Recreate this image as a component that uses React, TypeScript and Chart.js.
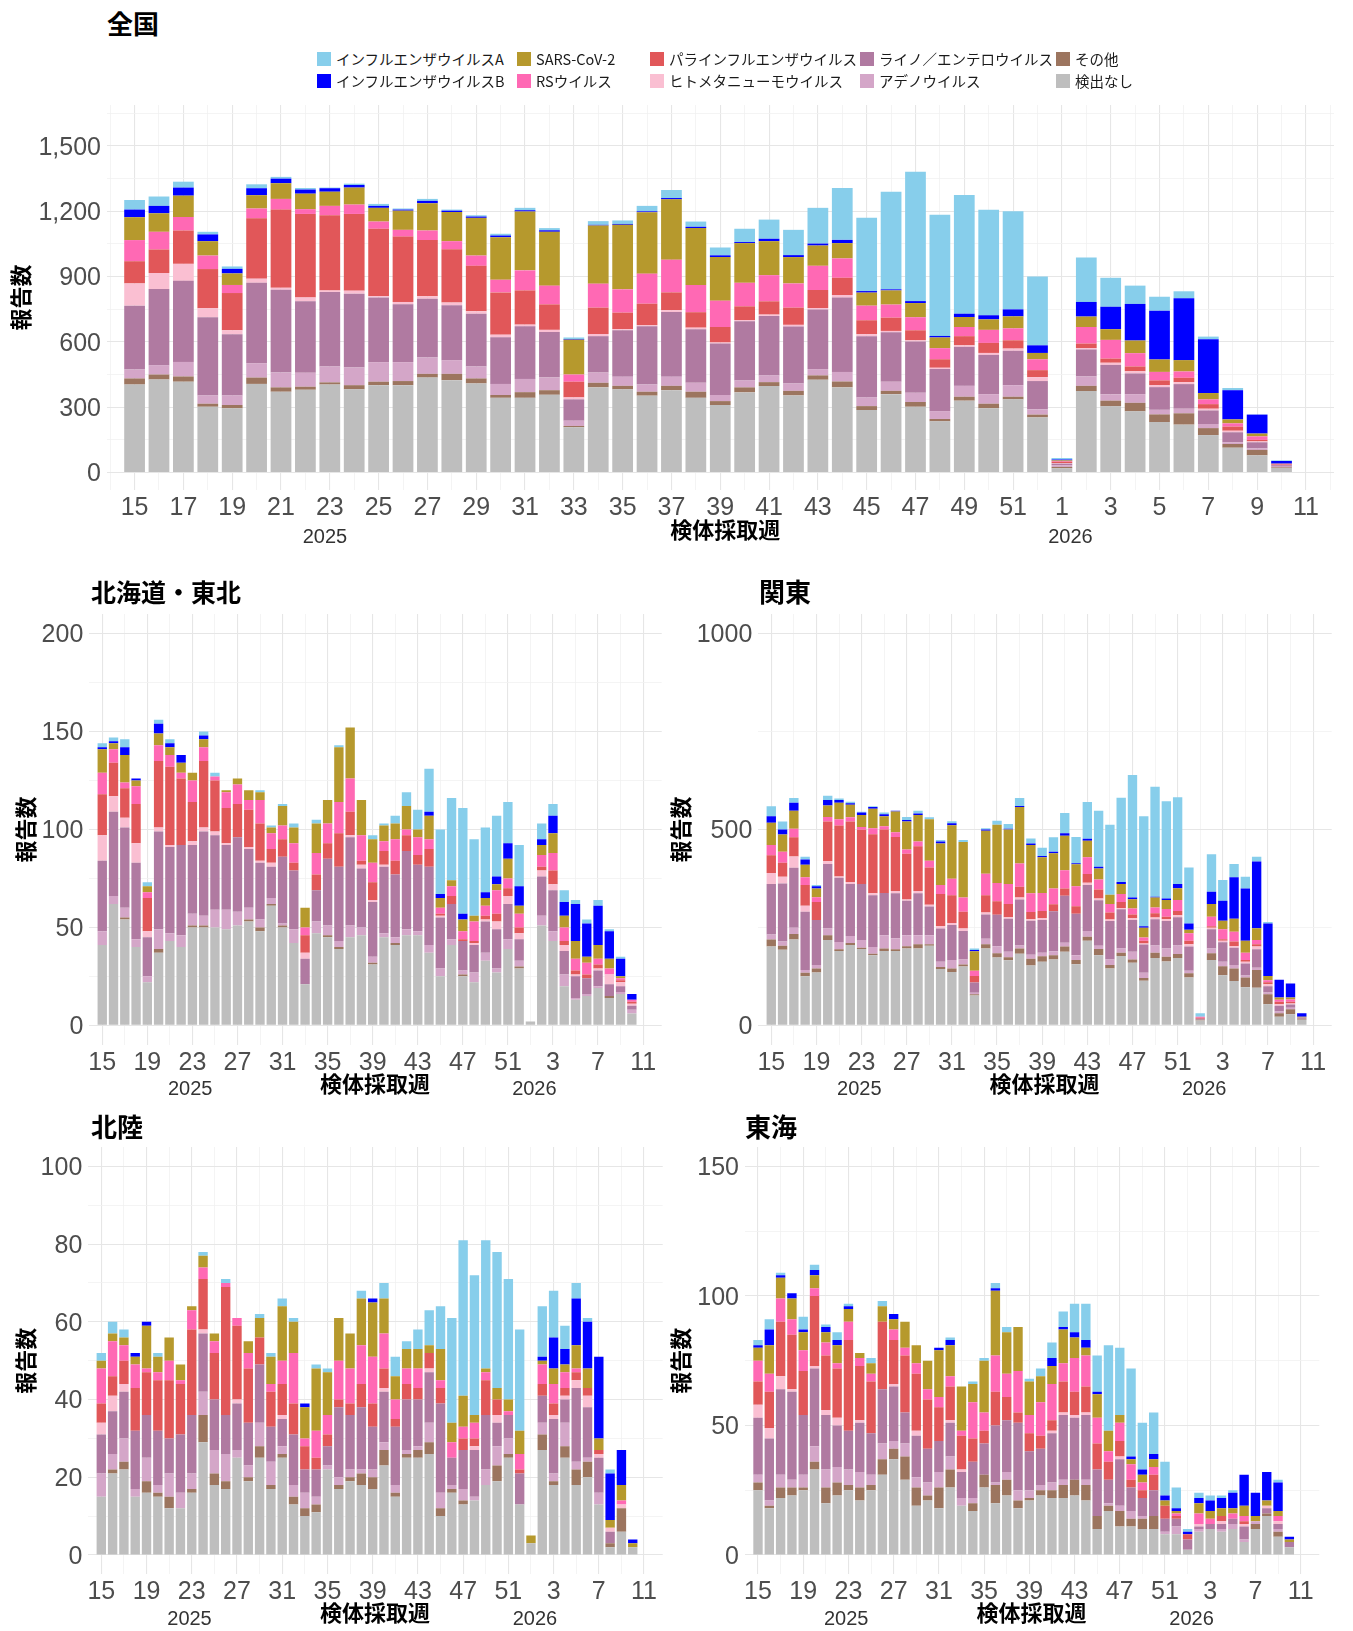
import React, { useEffect, useRef } from "react";
import { Chart, registerables } from "chart.js";
Chart.register(...registerables);

// ---- week axis (2025 w15 .. 2026 w11) ----
const WEEK_LABELS = [
  "15","16","17","18","19","20","21","22","23","24","25","26","27","28","29","30","31","32","33","34",
  "35","36","37","38","39","40","41","42","43","44","45","46","47","48","49","50","51","52",
  "1","2","3","4","5","6","7","8","9","10","11",
];
const YEAR_LABELS = ["2025", "2026"];
const YEAR_POS = [7.8, 38.35];
const X_TITLE_POS = 24.2;

// series in stacking order (bottom -> top)
const SERIES_NAMES = [
  "検出なし", "その他", "アデノウイルス", "ライノ／エンテロウイルス", "ヒトメタニューモウイルス",
  "パラインフルエンザウイルス", "RSウイルス", "SARS-CoV-2", "インフルエンザウイルスB", "インフルエンザウイルスA",
];
const SERIES_COLORS = [
  "#BEBEBE", "#9C755F", "#D4A6C8", "#B07AA1", "#FABFD2",
  "#E15759", "#FF69B4", "#B6992D", "#0000FF", "#87CEEB",
];

// ---- 全国 ----
const NAT_NONE = [404,427,417,302,295,407,371,380,404,382,401,401,436,424,409,343,343,357,208,391,382,353,378,343,310,368,397,354,426,391,287,360,302,235,330,295,336,253,20,374,304,281,232,220,172,114,79,21];
const NAT_OTHER = [28,23,24,14,15,29,20,14,10,19,16,19,17,29,23,13,26,21,6,21,16,18,20,28,18,23,18,21,20,27,18,15,22,11,18,21,12,13,6,24,26,39,35,52,32,17,25,3];
const NAT_ADENO = [41,43,67,38,44,66,68,64,73,81,90,87,75,63,55,51,61,58,24,47,42,33,42,41,28,32,31,34,29,44,40,42,42,36,50,44,53,24,8,43,29,40,21,21,19,8,7,3];
const NAT_RHINO = [293,349,372,359,281,369,380,328,342,339,297,265,270,252,242,214,241,209,98,167,213,267,297,246,236,271,273,261,273,341,281,227,235,193,179,180,158,130,7,124,135,95,104,113,62,46,28,7];
const NAT_HMPV = [102,74,78,41,18,19,9,18,7,14,6,11,11,12,11,12,8,10,9,10,5,5,8,7,5,6,6,8,7,12,9,6,6,6,7,9,10,18,3,6,10,10,9,9,8,7,4,1];
const NAT_PARA = [102,108,153,180,171,277,359,383,345,352,309,300,258,245,209,194,157,117,72,121,76,99,82,71,71,63,61,79,83,79,64,61,46,39,42,46,38,32,6,21,19,22,22,20,21,19,7,3];
const NAT_RS = [97,81,62,62,37,45,49,22,43,43,33,31,44,37,47,58,92,86,33,110,107,138,150,125,121,108,120,111,111,89,67,60,60,51,42,60,55,50,3,76,86,61,39,29,22,15,16,2];
const NAT_SARS = [105,85,98,66,53,61,72,71,65,78,63,88,125,134,173,195,270,247,160,267,296,282,277,261,200,182,156,121,93,70,60,65,65,49,46,48,55,29,3,48,49,58,57,52,29,18,13,1];
const NAT_FLUB = [35,34,37,31,21,32,21,19,16,12,9,5,11,6,6,8,6,7,3,3,4,4,6,6,8,5,11,9,9,15,7,5,9,7,15,19,32,35,4,67,103,168,224,284,247,134,87,12];
const NAT_FLUA = [44,43,27,12,11,18,8,7,3,6,9,5,9,5,6,8,11,10,7,17,16,25,37,24,36,61,88,116,164,238,336,448,594,556,545,484,450,316,7,204,133,84,64,32,12,10,1,3];

// ---- 北海道・東北 ----
const HKT_NONE = [41,62,54,40,22,37,43,40,50,50,50,49,51,53,48,61,50,42,21,47,45,39,45,46,31,45,41,46,46,37,25,41,25,22,33,27,39,29,2,51,43,20,13,15,19,14,16,6];
const HKT_OTHER = [0,0,1,0,0,2,0,0,1,1,0,0,0,1,2,1,1,0,0,0,1,1,0,0,1,0,1,0,0,0,0,0,1,0,0,0,0,1,0,0,0,0,0,0,0,1,0,0];
const HKT_ADENO = [7,4,5,4,3,10,4,6,6,5,9,10,7,6,4,3,1,7,0,6,5,3,6,4,3,2,3,3,2,4,4,3,2,5,4,2,5,3,0,5,5,6,1,1,1,0,1,2];
const HKT_RHINO = [36,43,41,39,20,50,44,46,35,43,38,33,38,30,29,16,34,30,13,16,34,38,45,30,28,34,32,40,34,40,26,18,15,14,16,20,18,11,0,20,21,12,11,8,8,6,3,2];
const HKT_HMPV = [13,8,5,10,3,2,1,0,2,2,2,1,0,1,1,2,0,0,3,0,0,0,1,2,1,1,0,0,0,0,1,0,0,1,1,4,4,3,0,3,3,3,1,0,1,5,2,1];
const HKT_PARA = [21,17,15,20,17,34,40,34,20,34,26,18,17,19,19,7,9,4,9,8,8,17,12,2,9,7,7,8,5,9,1,4,1,1,2,4,4,3,0,2,7,2,2,2,2,0,1,1];
const HKT_RS = [11,7,3,9,3,8,6,3,11,7,2,8,10,5,12,8,7,10,4,11,10,16,17,13,10,5,11,3,9,5,3,5,4,10,5,12,5,7,0,6,9,7,6,6,3,3,1,1];
const HKT_SARS = [12,3,14,3,3,6,4,5,4,4,0,1,3,5,4,3,10,8,10,15,12,28,26,18,12,8,8,12,4,12,5,3,6,3,4,3,10,4,0,5,10,6,9,3,7,5,1,0];
const HKT_FLUB = [1,1,4,1,0,5,2,4,0,2,0,0,0,0,0,0,0,0,0,0,0,0,0,0,0,0,0,0,0,2,2,0,3,0,3,4,8,10,0,3,9,7,19,17,20,14,9,3];
const HKT_FLUA = [2,2,4,0,2,2,2,0,0,2,2,0,0,0,1,1,1,2,0,2,0,1,0,0,2,1,4,7,10,22,33,42,54,39,33,31,21,21,0,8,6,6,2,2,3,1,1,0];

// ---- 関東 ----
const KAN_NONE = [201,193,219,125,135,218,190,205,195,179,190,190,196,196,203,144,136,150,76,196,173,166,183,153,162,168,188,156,216,179,145,177,160,114,172,163,172,122,12,167,128,113,97,96,54,22,28,14];
const KAN_OTHER = [18,10,14,9,10,12,4,5,3,4,6,4,6,11,4,5,9,5,3,11,11,8,13,17,14,11,13,11,10,16,9,8,8,7,13,12,10,11,2,17,23,32,25,45,25,9,13,3];
const KAN_ADENO = [13,11,16,7,9,17,19,18,20,17,34,28,28,23,23,13,22,13,4,14,18,14,8,10,9,10,10,12,15,8,14,11,20,13,19,21,22,6,0,12,11,9,5,6,5,4,4,0];
const KAN_RHINO = [129,148,153,149,115,165,164,133,143,132,108,115,88,107,73,85,89,73,26,62,80,84,117,87,84,102,120,106,117,116,98,100,81,72,67,70,72,62,3,49,50,44,31,47,16,15,8,3];
const KAN_HMPV = [28,17,29,15,0,7,3,5,0,5,0,6,3,6,5,6,5,6,0,5,0,4,5,4,4,0,0,0,6,5,4,3,4,3,4,5,5,6,0,4,4,4,4,7,5,4,3,0];
const KAN_PARA = [45,36,49,53,46,101,130,154,138,151,162,138,117,114,95,82,71,43,17,44,35,34,28,18,19,18,18,19,22,23,18,16,10,7,11,6,11,9,2,4,4,12,5,6,5,6,4,0];
const KAN_RS = [26,28,22,20,12,12,16,11,7,15,8,12,11,12,17,23,42,36,13,55,46,51,59,48,46,40,47,51,43,25,22,20,15,8,15,20,28,19,3,24,25,25,18,11,5,5,6,0];
const KAN_SARS = [57,44,46,32,22,29,42,32,31,50,26,53,71,68,106,106,137,142,50,110,149,139,144,123,91,90,88,56,42,28,23,26,24,25,25,23,30,9,0,33,22,33,31,30,11,6,5,2];
const KAN_FLUB = [17,13,20,13,6,14,7,4,6,4,5,2,4,4,0,5,5,0,3,3,0,2,3,4,3,4,6,3,5,5,0,5,4,4,2,4,11,16,0,31,51,106,133,170,134,45,36,9];
const KAN_FLUA = [25,20,12,7,3,11,4,4,2,2,4,0,8,7,5,4,5,5,4,3,10,12,20,13,21,37,52,67,94,143,179,215,313,281,281,248,221,143,9,96,53,34,30,12,4,0,0,0];

// ---- 北陸 ----
const HOK_NONE = [15,21,22,15,16,15,12,12,16,29,18,17,25,19,25,17,25,13,10,11,22,17,19,18,17,23,15,25,25,26,10,16,13,14,18,19,25,13,3,27,18,25,18,20,13,2,6,2];
const HOK_OTHER = [0,1,2,0,3,1,3,0,1,7,3,2,0,1,3,1,1,2,2,2,0,1,1,3,3,4,1,1,2,3,2,1,1,0,0,4,1,0,0,4,1,3,4,4,0,1,6,0];
const HOK_ADENO = [6,4,6,2,6,2,6,4,4,6,6,7,2,3,6,6,2,3,4,2,1,2,2,1,2,2,2,1,1,5,4,1,3,1,4,5,4,0,0,3,2,6,2,1,3,0,0,0];
const HOK_RHINO = [10,11,12,15,11,14,9,15,15,15,13,10,12,11,15,9,7,13,6,7,5,18,14,16,11,13,15,13,12,13,23,7,10,12,14,6,6,8,0,7,14,6,19,13,9,3,0,0];
const HOK_HMPV = [3,4,2,0,0,0,0,0,0,1,0,0,1,0,0,0,1,0,0,0,0,0,0,0,0,1,0,0,0,1,0,0,0,1,0,2,0,0,0,0,1,1,2,3,1,1,1,0];
const HOK_PARA = [5,5,6,11,11,13,15,13,22,13,12,33,19,14,7,9,8,8,6,3,3,2,3,6,6,5,2,4,3,4,4,0,3,2,9,4,0,1,0,3,3,2,2,2,1,0,0,0];
const HOK_RS = [9,9,4,6,1,2,5,1,5,3,3,1,2,4,0,2,6,13,2,7,5,10,9,10,12,9,5,4,5,0,2,4,3,4,2,0,1,4,0,5,5,4,1,0,0,0,1,0];
const HOK_SARS = [2,2,2,2,11,4,6,4,1,3,2,0,0,3,5,7,14,8,8,16,11,11,9,12,14,9,6,5,5,2,8,5,8,2,1,3,3,6,2,1,4,2,6,5,3,2,4,1];
const HOK_FLUB = [0,0,0,1,1,0,0,0,0,0,0,0,0,0,0,0,0,0,1,0,0,0,0,0,1,0,0,0,0,0,0,0,0,0,0,0,0,0,0,1,8,4,12,12,21,12,9,1];
const HOK_FLUA = [2,3,2,0,0,1,0,0,0,1,0,1,0,0,1,1,2,1,0,1,1,0,0,2,0,4,5,2,5,9,11,27,40,36,33,35,31,26,0,13,12,6,4,1,0,1,0,0];

// ---- 東海 ----
const TOK_NONE = [25,18,22,23,25,33,20,23,25,21,25,31,37,29,19,21,18,26,19,17,26,20,23,18,21,23,22,22,23,21,10,17,11,11,10,10,8,8,2,9,10,9,10,5,10,15,7,3];
const TOK_OTHER = [3,1,4,3,1,3,6,5,2,5,2,6,4,9,7,2,8,7,0,3,5,7,6,3,1,2,3,5,6,6,5,2,6,3,4,5,0,0,0,0,0,0,0,0,2,1,2,0];
const TOK_ADENO = [3,2,5,3,5,6,7,6,6,6,4,6,3,5,4,5,6,5,3,2,0,1,3,4,3,2,3,2,0,2,0,1,2,3,1,0,1,3,0,1,0,1,2,1,1,0,1,0];
const TOK_RHINO = [22,24,33,34,23,30,21,16,15,19,16,21,21,12,16,13,12,13,10,14,12,22,20,26,15,14,19,25,24,25,18,9,18,9,7,10,5,3,4,1,2,2,2,5,0,2,2,2];
const TOK_HMPV = [5,4,5,1,0,1,2,3,0,1,0,0,1,0,2,0,0,1,1,0,0,0,0,0,0,0,1,1,1,1,0,0,1,0,0,0,0,0,0,1,0,1,0,1,0,1,1,0];
const TOK_PARA = [9,14,21,21,17,27,21,19,35,21,20,26,17,22,22,19,13,13,13,9,5,13,9,4,7,5,4,12,9,10,10,7,6,3,3,6,5,1,2,0,0,2,0,1,0,0,0,0];
const TOK_RS = [8,7,9,6,8,3,5,2,7,3,3,0,4,3,4,4,4,4,2,14,7,14,9,16,7,13,14,7,13,12,10,4,7,6,3,3,0,1,0,4,2,0,2,2,0,0,2,0];
const TOK_SARS = [5,11,8,8,7,5,4,7,5,2,4,6,4,10,7,11,18,12,17,7,20,25,16,17,13,10,7,13,8,3,9,8,3,2,3,3,2,1,0,4,3,3,2,4,2,2,2,1];
const TOK_FLUB = [1,6,1,2,1,2,2,2,1,0,0,0,2,0,0,0,1,2,0,0,0,1,0,0,0,0,3,1,2,3,1,0,0,1,2,2,2,1,1,2,4,4,6,12,9,11,11,1];
const TOK_FLUA = [2,4,1,0,5,2,1,3,1,0,2,2,0,0,0,0,0,1,0,1,1,2,2,0,1,3,6,6,11,14,14,33,26,34,18,16,13,8,1,2,2,1,1,0,0,0,1,0];

// legend layout: columns of [top item, bottom item] as indices into SERIES_NAMES
const LEGEND_COLUMNS = [[9, 8], [7, 6], [5, 4], [3, 2], [1, 0]];

const FONT_TICK = "'Liberation Sans', Arial, Helvetica, sans-serif";
const FONT_JP = "'Noto Sans CJK JP', 'Noto Sans', sans-serif";
const PAD_TOP = 22; // >= half tick label height + tick padding, so Chart.js adds nothing extra

type PanelCfg = {
  id: string;
  series: number[][];
  left: number; width: number; areaTop: number; areaBottom: number; canvasBottom: number;
  yAxisWidth: number; padRight: number;
  yMin: number; yMax: number; yStep: number; yMajor: number; yTopTick: number;
  xMin: number; xMax: number; xGridFrom: number; xGridTo: number; xGridStep: number; xLabelStep: number;
  barPct: number; comma: boolean;
  yTitleX: number; xTitleOffset: number; yearOffset: number;
};

const textPlugin = {
  id: "panelText",
  afterDraw(chart: any, _args: any, opts: any) {
    const { ctx, chartArea } = chart;
    const xs = chart.scales.x;
    ctx.save();
    ctx.fillStyle = "#000";
    ctx.textAlign = "center";
    ctx.textBaseline = "middle";
    ctx.font = `bold 22px ${FONT_JP}`;
    ctx.save();
    ctx.translate(opts.yTitleX, (chartArea.top + chartArea.bottom) / 2);
    ctx.rotate(-Math.PI / 2);
    ctx.fillText("報告数", 0, 0);
    ctx.restore();
    ctx.fillText("検体採取週", xs.getPixelForValue(X_TITLE_POS), chartArea.bottom + opts.xTitleOffset);
    ctx.font = `20px ${FONT_TICK}`;
    ctx.fillStyle = "#333";
    YEAR_LABELS.forEach((lab, i) => {
      ctx.fillText(lab, xs.getPixelForValue(YEAR_POS[i]), chartArea.bottom + opts.yearOffset);
    });
    ctx.restore();
  },
};

function buildConfig(cfg: PanelCfg): any {
  const datasets = cfg.series.map((vals, k) => ({
    label: SERIES_NAMES[k],
    data: vals.map((v, i) => ({ x: i, y: v })),
    backgroundColor: SERIES_COLORS[k],
    borderWidth: 0,
    barPercentage: cfg.barPct,
    categoryPercentage: 1,
  }));
  const xTicks: number[] = [];
  for (let v = cfg.xGridFrom; v <= cfg.xGridTo; v += cfg.xGridStep) xTicks.push(v);
  const yTicks: number[] = [];
  for (let v = 0; v <= cfg.yTopTick; v += cfg.yStep) yTicks.push(v);
  const fmt = (v: number) => (cfg.comma ? v.toLocaleString("en-US") : String(v));
  const xAxisHeight = cfg.canvasBottom - cfg.areaBottom;
  return {
    type: "bar",
    data: { datasets },
    plugins: [textPlugin],
    options: {
      responsive: false,
      animation: false,
      devicePixelRatio: 1,
      layout: { padding: { top: PAD_TOP, right: cfg.padRight, left: 0, bottom: 0 } },
      plugins: {
        legend: { display: false },
        tooltip: { enabled: false },
        title: { display: false },
        panelText: { yTitleX: cfg.yTitleX, xTitleOffset: cfg.xTitleOffset, yearOffset: cfg.yearOffset },
      },
      scales: {
        x: {
          type: "linear",
          min: cfg.xMin,
          max: cfg.xMax,
          stacked: true,
          offset: false,
          afterBuildTicks: (s: any) => { s.ticks = xTicks.map((v) => ({ value: v })); },
          afterFit: (s: any) => { s.height = xAxisHeight; },
          ticks: {
            autoSkip: false, maxRotation: 0, minRotation: 0, padding: 3,
            color: "#4D4D4D", font: { family: FONT_TICK, size: 25 },
            callback: (v: number) => {
              const i = Math.round(v);
              return Math.abs(v - i) < 1e-6 && i >= 0 && i < WEEK_LABELS.length && i % cfg.xLabelStep === 0 ? WEEK_LABELS[i] : "";
            },
          },
          grid: {
            offset: false, drawTicks: false,
            color: (c: any) => (c.tick && c.tick.value % cfg.xLabelStep === 0 ? "#E6E6E6" : "#F1F1F1"),
            lineWidth: (c: any) => (c.tick && c.tick.value % cfg.xLabelStep === 0 ? 1.1 : 0.8),
          },
          border: { display: false },
        },
        y: {
          min: cfg.yMin,
          max: cfg.yMax,
          stacked: true,
          afterBuildTicks: (s: any) => { s.ticks = yTicks.map((v) => ({ value: v })); },
          afterFit: (s: any) => { s.width = cfg.yAxisWidth; },
          ticks: {
            padding: 6, labelOffset: 2, color: "#4D4D4D", font: { family: FONT_TICK, size: 25 },
            callback: (v: number) => (v % cfg.yMajor === 0 ? fmt(v) : ""),
          },
          grid: {
            drawTicks: false,
            color: (c: any) => (c.tick && c.tick.value % cfg.yMajor === 0 ? "#E6E6E6" : "#F1F1F1"),
            lineWidth: (c: any) => (c.tick && c.tick.value % cfg.yMajor === 0 ? 1.1 : 0.8),
          },
          border: { display: false },
        },
      },
    },
  };
}

const REG_X = { xMin: -1.15, xMax: 49.65, xGridFrom: 0, xGridTo: 48, xGridStep: 2, xLabelStep: 4, barPct: 0.83, xTitleOffset: 38.6, yearOffset: 45 };

const PANELS: PanelCfg[] = [
  {
    id: "nat",
    series: [NAT_NONE, NAT_OTHER, NAT_ADENO, NAT_RHINO, NAT_HMPV, NAT_PARA, NAT_RS, NAT_SARS, NAT_FLUB, NAT_FLUA],
    left: 0, width: 1353, areaTop: 105, areaBottom: 490, canvasBottom: 565,
    yAxisWidth: 107, padRight: 19,
    yMin: -80, yMax: 1687, yStep: 150, yMajor: 300, yTopTick: 1650,
    xMin: -1.13, xMax: 49.15, xGridFrom: -1, xGridTo: 49, xGridStep: 1, xLabelStep: 2,
    barPct: 0.85, comma: true, yTitleX: 21, xTitleOffset: 39.5, yearOffset: 47,
  },
  {
    id: "hkt",
    series: [HKT_NONE, HKT_OTHER, HKT_ADENO, HKT_RHINO, HKT_HMPV, HKT_PARA, HKT_RS, HKT_SARS, HKT_FLUB, HKT_FLUA],
    left: 0, width: 676, areaTop: 613.7, areaBottom: 1044.9, canvasBottom: 1105,
    yAxisWidth: 89.3, padRight: 14.3,
    yMin: -10, yMax: 210, yStep: 25, yMajor: 50, yTopTick: 200,
    ...REG_X, comma: false, yTitleX: 26,
  },
  {
    id: "kan",
    series: [KAN_NONE, KAN_OTHER, KAN_ADENO, KAN_RHINO, KAN_HMPV, KAN_PARA, KAN_RS, KAN_SARS, KAN_FLUB, KAN_FLUA],
    left: 660, width: 693, areaTop: 613.7, areaBottom: 1044.9, canvasBottom: 1105,
    yAxisWidth: 98.3, padRight: 21.3,
    yMin: -50, yMax: 1050, yStep: 250, yMajor: 500, yTopTick: 1000,
    ...REG_X, comma: false, yTitleX: 21,
  },
  {
    id: "hok",
    series: [HOK_NONE, HOK_OTHER, HOK_ADENO, HOK_RHINO, HOK_HMPV, HOK_PARA, HOK_RS, HOK_SARS, HOK_FLUB, HOK_FLUA],
    left: 0, width: 676, areaTop: 1147.3, areaBottom: 1574.4, canvasBottom: 1631,
    yAxisWidth: 88.3, padRight: 13.3,
    yMin: -5, yMax: 105, yStep: 10, yMajor: 20, yTopTick: 100,
    ...REG_X, comma: false, yTitleX: 26,
  },
  {
    id: "tok",
    series: [TOK_NONE, TOK_OTHER, TOK_ADENO, TOK_RHINO, TOK_HMPV, TOK_PARA, TOK_RS, TOK_SARS, TOK_FLUB, TOK_FLUA],
    left: 660, width: 693, areaTop: 1147.3, areaBottom: 1574.4, canvasBottom: 1631,
    yAxisWidth: 85, padRight: 33.7,
    yMin: -7.5, yMax: 157.5, yStep: 25, yMajor: 50, yTopTick: 150,
    ...REG_X, comma: false, yTitleX: 21,
  },
];

const TITLES = [
  { text: "全国", left: 107, top: 10, size: 26 },
  { text: "北海道・東北", left: 91, top: 578, size: 25 },
  { text: "関東", left: 759, top: 578, size: 26 },
  { text: "北陸", left: 91, top: 1113, size: 26 },
  { text: "東海", left: 745, top: 1113, size: 26 },
];
const LEGEND_X = [317, 517, 650, 860, 1056];
const LEGEND_Y = [59.3, 81.1];

function Panel({ cfg }: { cfg: PanelCfg }) {
  const ref = useRef<HTMLCanvasElement>(null);
  const top = cfg.areaTop - PAD_TOP;
  const height = Math.round(cfg.canvasBottom - top);
  useEffect(() => {
    const chart = new Chart(ref.current as HTMLCanvasElement, buildConfig(cfg));
    return () => chart.destroy();
  }, [cfg]);
  return (
    <canvas
      ref={ref}
      width={cfg.width}
      height={height}
      style={{ position: "absolute", left: cfg.left, top: cfg.canvasBottom - height, width: cfg.width, height }}
    />
  );
}

export default function App() {
  useEffect(() => {
    document.documentElement.style.overflow = "hidden";
    document.body.style.overflow = "hidden";
  }, []);
  return (
    <div style={{ position: "absolute", left: 0, top: 0, width: 1353, height: 1631, background: "#fff", overflow: "hidden" }}>
      {PANELS.map((p) => (
        <Panel key={p.id} cfg={p} />
      ))}
      {TITLES.map((t) => (
        <div
          key={t.text}
          style={{
            position: "absolute", left: t.left, top: t.top, fontFamily: FONT_JP, fontWeight: 700,
            fontSize: t.size, lineHeight: "26px", color: "#000", whiteSpace: "nowrap",
          }}
        >
          {t.text}
        </div>
      ))}
      {LEGEND_COLUMNS.map((col, ci) =>
        col.map((si, ri) => (
          <div
            key={si}
            style={{
              position: "absolute", left: LEGEND_X[ci], top: LEGEND_Y[ri] - 8, height: 16,
              display: "flex", alignItems: "center", whiteSpace: "nowrap",
            }}
          >
            <span style={{ display: "inline-block", width: 14, height: 14, background: SERIES_COLORS[si], marginRight: 5 }} />
            <span style={{ fontFamily: FONT_JP, fontSize: 14.5, lineHeight: "16px", color: "#1a1a1a" }}>{SERIES_NAMES[si]}</span>
          </div>
        ))
      )}
    </div>
  );
}
